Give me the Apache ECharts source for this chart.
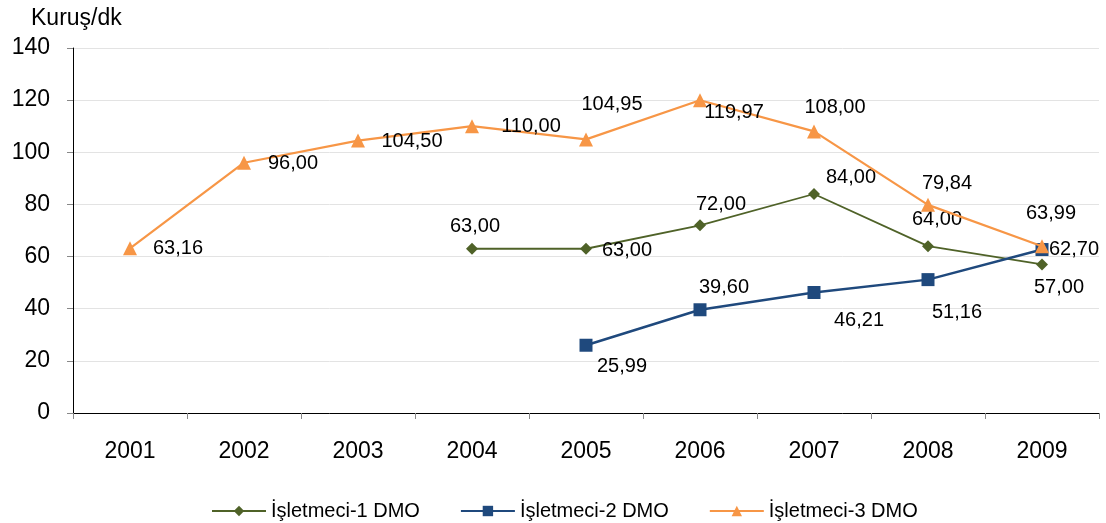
<!DOCTYPE html>
<html>
<head>
<meta charset="utf-8">
<script src="https://cdn.jsdelivr.net/npm/echarts@6/dist/echarts.min.js"></script>
<style>
  html, body { margin: 0; padding: 0; background: #fff; }
  #chart { width: 1106px; height: 523px; }
</style>
</head>
<body>
<div id="chart"></div>
<script>
// Years on the category axis
const years = ['2001', '2002', '2003', '2004', '2005', '2006', '2007', '2008', '2009'];

// Mobile termination rates (kuruş per minute) per operator
const operator1 = [null, null, null, 63.00, 63.00, 72.00, 84.00, 64.00, 57.00];
const operator2 = [null, null, null, null, 25.99, 39.60, 46.21, 51.16, 62.70];
const operator3 = [63.16, 96.00, 104.50, 110.00, 104.95, 119.97, 108.00, 79.84, 63.99];

const seriesNames = ['İşletmeci-1 DMO', 'İşletmeci-2 DMO', 'İşletmeci-3 DMO'];
const yTicks = { min: 0, max: 140, interval: 20 };

// Label placement around each marker, in pixels (label centre minus marker centre)
const labelShift1 = [null, null, null, [3, -22], [41, 2], [21, -21], [37, -17], [9, -27], [17, 23]];
const labelShift2 = [null, null, null, null, [36, 21], [24, -22], [45, 28], [29, 33], [32, 0]];
const labelShift3 = [[48, 0], [49, 1], [54, 1], [59, 0], [26, -35], [34, 12], [21, -24], [19, -21], [9, -33]];

const fmt = v => v.toFixed(2).replace('.', ',');

function buildData(values, shifts) {
  return values.map((v, i) => {
    if (v === null) return null;
    return {
      value: v,
      label: { offset: shifts[i] }
    };
  });
}

const labelStyle = {
  show: true,
  position: 'inside',
  color: '#000',
  fontSize: 20,
  fontFamily: 'Liberation Sans, Arial, sans-serif',
  formatter: p => fmt(p.value)
};

const chart = echarts.init(document.getElementById('chart'));
chart.setOption({
  animation: false,
  backgroundColor: '#fff',
  textStyle: { fontFamily: 'Liberation Sans, Arial, sans-serif' },
  title: {
    text: 'Kuruş/dk',
    left: 31,
    top: 7,
    padding: 0,
    textStyle: { fontSize: 23, fontWeight: 'normal', color: '#000' }
  },
  grid: { left: 73, right: 7, top: 48, bottom: 110, containLabel: false },
  legend: {
    top: 496,
    left: 206,
    itemWidth: 54,
    itemHeight: 13,
    itemGap: 40,
    textStyle: { fontSize: 20, color: '#000' },
    data: seriesNames
  },
  xAxis: {
    type: 'category',
    data: years,
    boundaryGap: true,
    axisLine: { lineStyle: { color: '#000', width: 1 } },
    axisTick: { show: true, alignWithLabel: false, length: 6, lineStyle: { color: '#888' } },
    axisLabel: { fontSize: 23, color: '#000', margin: 27 },
    splitLine: { show: false }
  },
  yAxis: {
    type: 'value',
    min: yTicks.min,
    max: yTicks.max,
    interval: yTicks.interval,
    axisLine: { show: true, lineStyle: { color: '#000', width: 1 } },
    axisTick: { show: true, length: 6, lineStyle: { color: '#888' } },
    axisLabel: { fontSize: 23, color: '#000', margin: 23 },
    splitLine: { show: true, lineStyle: { color: '#e3e3e3', width: 1 } }
  },
  series: [
    {
      name: seriesNames[0],
      type: 'line',
      data: buildData(operator1, labelShift1),
      color: '#4F6228',
      symbol: 'diamond',
      symbolSize: 12,
      lineStyle: { width: 1.8, color: '#4F6228' },
      itemStyle: { color: '#4F6228' },
      label: labelStyle,
      z: 3
    },
    {
      name: seriesNames[1],
      type: 'line',
      data: buildData(operator2, labelShift2),
      color: '#1F497D',
      symbol: 'rect',
      symbolSize: 13,
      lineStyle: { width: 2.5, color: '#1F497D' },
      itemStyle: { color: '#1F497D' },
      label: labelStyle,
      z: 4
    },
    {
      name: seriesNames[2],
      type: 'line',
      data: buildData(operator3, labelShift3),
      color: '#F79646',
      symbol: 'triangle',
      symbolSize: 14,
      lineStyle: { width: 2.2, color: '#F79646' },
      itemStyle: { color: '#F79646' },
      label: labelStyle,
      z: 5
    }
  ]
});
</script>
</body>
</html>
